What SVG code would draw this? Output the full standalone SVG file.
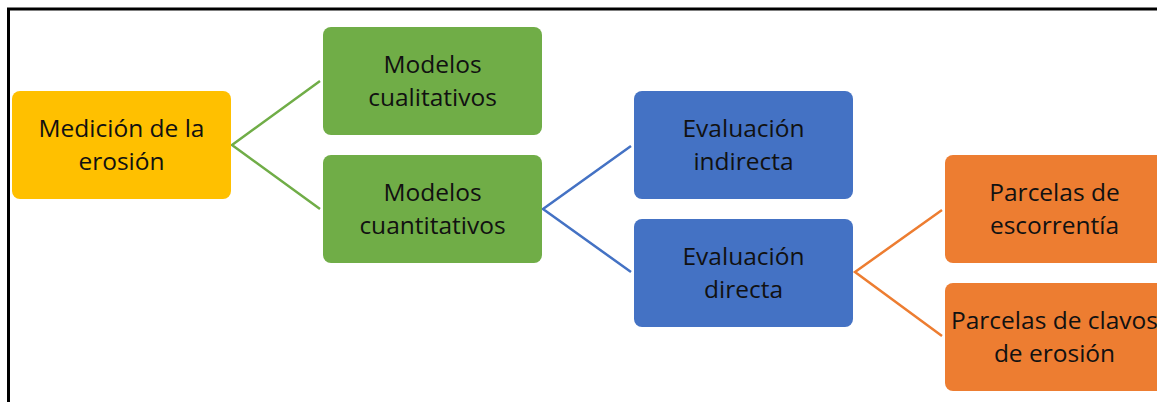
<svg xmlns="http://www.w3.org/2000/svg" width="1157" height="402" viewBox="0 0 1157 402">
<style>
.t{font-family:"Open Sans","Liberation Sans",sans-serif;font-size:24.5px;fill:#111;text-anchor:middle}
.c{fill:none;stroke-width:2.5}
</style>
<rect x="0" y="0" width="1157" height="402" fill="#fff"/>
<path d="M8.5,402 V9 H1157" fill="none" stroke="#000" stroke-width="3"/>
<g id="connectors">
<path class="c" stroke="#70AD47" d="M320,81 L232,145 L320,209"/>
<path class="c" stroke="#4472C4" d="M631,146 L543,209 L631,272"/>
<path class="c" stroke="#ED7D31" d="M942,210 L855,272 L942,336"/>
</g>
<g id="n1"><rect x="12" y="91" width="219" height="108" rx="8" fill="#FFC000"/><text class="t" x="121.5" y="137">Medición de la</text><text class="t" x="121.5" y="170">erosión</text></g>
<g id="n2"><rect x="323" y="27" width="219" height="108" rx="8" fill="#70AD47"/><text class="t" x="432.5" y="73">Modelos</text><text class="t" x="432.5" y="106">cualitativos</text></g>
<g id="n3"><rect x="323" y="155" width="219" height="108" rx="8" fill="#70AD47"/><text class="t" x="432.5" y="201">Modelos</text><text class="t" x="432.5" y="234">cuantitativos</text></g>
<g id="n4"><rect x="634" y="91" width="219" height="108" rx="8" fill="#4472C4"/><text class="t" x="743.5" y="137">Evaluación</text><text class="t" x="743.5" y="170">indirecta</text></g>
<g id="n5"><rect x="634" y="219" width="219" height="108" rx="8" fill="#4472C4"/><text class="t" x="743.5" y="265">Evaluación</text><text class="t" x="743.5" y="298">directa</text></g>
<g id="n6"><rect x="945" y="155" width="219" height="108" rx="8" fill="#ED7D31"/><text class="t" x="1054.5" y="201">Parcelas de</text><text class="t" x="1054.5" y="234">escorrentía</text></g>
<g id="n7"><rect x="945" y="283" width="219" height="108" rx="8" fill="#ED7D31"/><text class="t" x="1054.5" y="329">Parcelas de clavos</text><text class="t" x="1054.5" y="362">de erosión</text></g>
</svg>
